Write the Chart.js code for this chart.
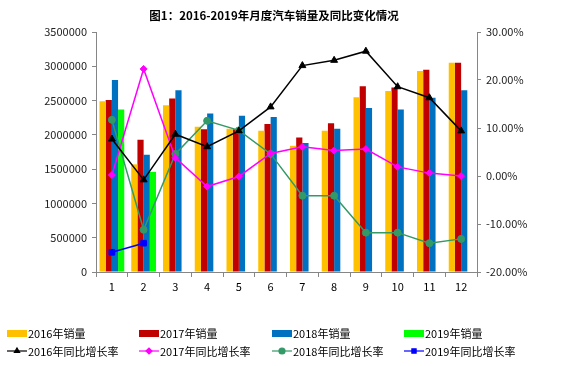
<!DOCTYPE html>
<html>
<head>
<meta charset="utf-8">
<script src="https://cdn.jsdelivr.net/npm/chart.js@4/dist/chart.umd.min.js"></script>
<style>
html, body { margin: 0; padding: 0; background: #fff; }
</style>
</head>
<body>
<canvas id="cv1" width="567" height="366"></canvas>
<script>
const months = ["1", "2", "3", "4", "5", "6", "7", "8", "9", "10", "11", "12"];

const sales2016 = [2490000, 1570000, 2430000, 2120000, 2090000, 2060000, 1840000, 2060000, 2550000, 2640000, 2930000, 3050000];
const sales2017 = [2510000, 1930000, 2530000, 2080000, 2080000, 2160000, 1960000, 2170000, 2710000, 2690000, 2950000, 3050000];
const sales2018 = [2800000, 1710000, 2650000, 2310000, 2280000, 2260000, 1880000, 2090000, 2390000, 2370000, 2540000, 2650000];
const sales2019 = [2370000, 1460000, null, null, null, null, null, null, null, null, null, null];

const growth2016 = [7.7, -0.8, 8.7, 6.1, 9.4, 14.4, 23.0, 24.1, 26.0, 18.6, 16.3, 9.4];
const growth2017 = [0.2, 22.3, 3.8, -2.2, -0.1, 4.7, 6.1, 5.3, 5.6, 1.9, 0.6, 0.0];
const growth2018 = [11.7, -11.2, 4.6, 11.5, 9.5, 4.6, -4.1, -4.1, -11.8, -11.8, -14.0, -13.1];
const growth2019 = [-15.9, -14.0, null, null, null, null, null, null, null, null, null, null];

const title = "图1：2016-2019年月度汽车销量及同比变化情况";
const axisGray = "#868686";
const font = "'Noto Sans CJK SC', 'DejaVu Sans', sans-serif";

function barSet(label, data, color) {
    return { type: "bar", label: label, data: data, backgroundColor: color, yAxisID: "y", order: 2 };
}

function lineSet(label, data, color, style, r) {
    return {
        type: "line", label: label, data: data, yAxisID: "y1", order: 1,
        borderColor: color, backgroundColor: color, borderWidth: 1.5,
        pointStyle: style, pointRadius: r, pointHoverRadius: r, pointBorderWidth: 1,
        tension: 0, spanGaps: false
    };
}

// title + 4 column legend drawn by hand
const extras = {
    id: "extras",
    afterDraw(chart) {
        const ctx = chart.ctx;
        ctx.save();
        ctx.fillStyle = "#000";
        ctx.font = "bold 11.5px " + font;
        ctx.textAlign = "center";
        ctx.textBaseline = "middle";
        ctx.fillText(title, 274, 16);

        const cols = [7, 139, 272, 404];
        const rows = [333, 351];
        ctx.font = "11px " + font;
        ctx.textAlign = "left";
        chart.data.datasets.forEach((ds, i) => {
            const x = cols[i % 4];
            const y = rows[Math.floor(i / 4)];
            if (ds.type === "bar") {
                ctx.fillStyle = ds.backgroundColor;
                ctx.fillRect(x, y - 3, 20, 7);
            } else {
                ctx.strokeStyle = ds.borderColor;
                ctx.lineWidth = 1.2;
                ctx.beginPath();
                ctx.moveTo(x, y);
                ctx.lineTo(x + 20, y);
                ctx.stroke();
                ctx.fillStyle = ds.backgroundColor;
                Chart.helpers.drawPoint(ctx, { pointStyle: ds.pointStyle, radius: 3, rotation: 0, borderWidth: 1 }, x + 10, y);
            }
            ctx.fillStyle = "#000";
            ctx.fillText(ds.label, x + 21, y + 1);
        });
        ctx.restore();
    }
};

const canvas = document.getElementById("cv1");

new Chart(canvas, {
    data: {
        labels: months,
        datasets: [
            barSet("2016年销量", sales2016, "#FFC000"),
            barSet("2017年销量", sales2017, "#C00000"),
            barSet("2018年销量", sales2018, "#0070C0"),
            barSet("2019年销量", sales2019, "#00FF00"),
            lineSet("2016年同比增长率", growth2016, "#000000", "triangle", 4),
            lineSet("2017年同比增长率", growth2017, "#FF00FF", "rectRot", 3.5),
            lineSet("2018年同比增长率", growth2018, "#339966", "circle", 3.5),
            lineSet("2019年同比增长率", growth2019, "#0000FF", "rect", 4)
        ]
    },
    options: {
        responsive: false,
        animation: false,
        layout: { padding: { top: 32, bottom: 70, left: 0, right: 0 } },
        datasets: { bar: { categoryPercentage: 0.78, barPercentage: 1.0 } },
        plugins: { legend: { display: false }, title: { display: false }, tooltip: { enabled: false } },
        scales: {
            x: {
                offset: true,
                grid: { display: true, drawOnChartArea: false, drawTicks: true, tickLength: 5, color: axisGray, offset: true },
                border: { display: true, color: axisGray },
                ticks: { color: "#000", font: { size: 11, family: font }, padding: 3 },
                afterFit(s) { s.height = 24; }
            },
            y: {
                position: "left",
                min: 0, max: 3500000,
                grid: { drawOnChartArea: false, drawTicks: true, tickLength: 4, color: axisGray },
                border: { display: true, color: axisGray },
                ticks: { stepSize: 500000, color: "#222", font: { size: 11, family: font }, padding: 5, callback: v => String(v) },
                afterFit(s) { s.width = 96; }
            },
            y1: {
                position: "right",
                min: -20, max: 30,
                grid: { drawOnChartArea: false, drawTicks: true, tickLength: 4, color: axisGray },
                border: { display: true, color: axisGray },
                ticks: { stepSize: 10, color: "#222", font: { size: 11, family: font }, padding: 5, callback: v => v.toFixed(2) + "%" },
                afterFit(s) { s.width = 90; }
            }
        }
    },
    plugins: [extras]
});
</script>
</body>
</html>
